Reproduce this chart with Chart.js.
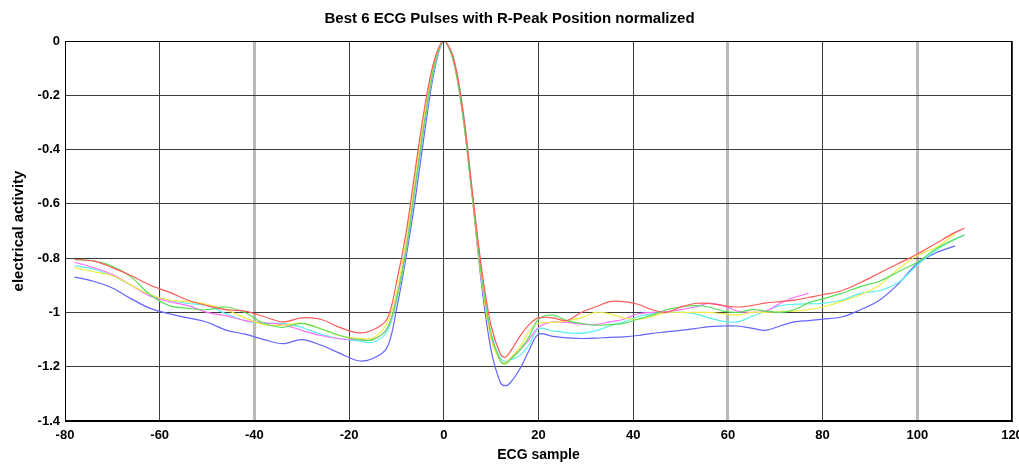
<!DOCTYPE html>
<html>
<head>
<meta charset="utf-8">
<script src="https://cdn.jsdelivr.net/npm/chart.js@4"></script>
<style>
  html, body { margin: 0; padding: 0; background: #fff; }
  canvas { display: block; }
</style>
</head>
<body>
<canvas id="ecgChart" width="1019" height="464"></canvas>
<script>
// sample positions relative to the R peak
const samples = [-78,-74,-70,-66,-62,-58,-54,-50,-46,-42,-38,-34,-30,-26,-22,-18,
  -15,-12,-10,-8,-6,-4,-2,0,2,4,6,8,10,12,13,14,16,18,20,
  23,26,29,32,35,38,41,44,47,50,53,56,59,62,65,68,71,74,77,80,
  84,88,92,96,100,104,108,110];

const pulseRed = [-0.805,-0.81,-0.835,-0.865,-0.9,-0.925,-0.955,-0.975,-0.99,-0.995,-1.015,-1.035,-1.02,-1.025,-1.055,-1.075,
  -1.065,-1.025,-0.89,-0.71,-0.47,-0.24,-0.07,0,-0.06,-0.25,-0.55,-0.84,-1.05,-1.155,-1.165,-1.145,-1.09,-1.045,-1.02,
  -1.02,-1.03,-1.0,-0.98,-0.96,-0.96,-0.97,-0.99,-1.0,-0.98,-0.967,-0.967,-0.975,-0.98,-0.975,-0.965,-0.96,-0.955,-0.945,-0.935,
  -0.92,-0.89,-0.855,-0.82,-0.785,-0.745,-0.705,-0.69];
const pulseGreen = [-0.805,-0.81,-0.83,-0.87,-0.935,-0.975,-0.985,-0.99,-0.98,-1.0,-1.04,-1.055,-1.04,-1.06,-1.085,-1.1,
  -1.1,-1.06,-0.95,-0.77,-0.53,-0.29,-0.09,0,-0.07,-0.27,-0.57,-0.87,-1.08,-1.18,-1.19,-1.175,-1.14,-1.09,-1.025,
  -1.01,-1.03,-1.04,-1.047,-1.045,-1.04,-1.025,-1.01,-0.99,-0.98,-0.975,-0.98,-0.995,-1.0,-0.99,-0.995,-1.0,-0.99,-0.965,-0.95,
  -0.93,-0.905,-0.885,-0.85,-0.815,-0.765,-0.73,-0.715];
const pulseYellow = [-0.835,-0.85,-0.865,-0.9,-0.935,-0.955,-0.96,-0.97,-0.99,-1.02,-1.045,-1.047,-1.04,-1.06,-1.085,-1.095,
  -1.095,-1.04,-0.93,-0.74,-0.5,-0.26,-0.08,0,-0.07,-0.27,-0.57,-0.88,-1.1,-1.18,-1.185,-1.17,-1.13,-1.07,-1.04,
  -1.037,-1.03,-1.02,-1.0,-1.005,-1.02,-1.025,-1.015,-1.0,-1.0,-1.0,-1.0,-1.005,-1.01,-1.0,-1.0,-0.997,-0.995,-0.99,-0.98,
  -0.96,-0.935,-0.9,-0.84,-0.79,-0.76,-0.71,null];
const pulseMagenta = [-0.815,-0.835,-0.86,-0.9,-0.94,-0.96,-0.975,-1.0,-1.012,-1.03,-1.038,-1.045,-1.066,-1.085,-1.097,-1.1,
  -1.1,-1.06,-0.95,-0.77,-0.53,-0.29,-0.09,0,-0.07,-0.27,-0.57,-0.88,-1.09,-1.18,-1.185,-1.17,-1.14,-1.1,-1.055,
  -1.035,-1.037,-1.043,-1.045,-1.035,-1.025,-1.005,-1.0,-0.997,-0.99,-0.98,-0.967,-0.975,-0.995,-1.0,-0.995,-0.967,-0.945,-0.93,null,
  null,null,null,null,null,null,null,null];
const pulseCyan = [-0.827,-0.84,-0.865,-0.9,-0.935,-0.955,-0.967,-0.975,-1.005,-1.03,-1.04,-1.04,-1.055,-1.08,-1.097,-1.105,
  -1.11,-1.07,-0.96,-0.78,-0.54,-0.3,-0.1,0,-0.06,-0.25,-0.55,-0.86,-1.08,-1.17,-1.18,-1.175,-1.16,-1.12,-1.06,
  -1.068,-1.075,-1.077,-1.068,-1.05,-1.035,-1.015,-1.005,-1.0,-1.0,-1.005,-1.02,-1.033,-1.035,-1.015,-0.995,-0.975,-0.97,-0.968,-0.967,
  -0.955,-0.93,-0.92,-0.89,-0.825,-0.77,-0.73,-0.715];
const pulseBlue = [-0.87,-0.885,-0.91,-0.95,-0.985,-1.005,-1.02,-1.036,-1.065,-1.08,-1.1,-1.115,-1.1,-1.12,-1.15,-1.178,
  -1.17,-1.13,-0.99,-0.8,-0.58,-0.33,-0.11,0,-0.07,-0.27,-0.57,-0.9,-1.14,-1.26,-1.27,-1.26,-1.21,-1.14,-1.08,
  -1.088,-1.094,-1.096,-1.095,-1.092,-1.09,-1.085,-1.077,-1.072,-1.066,-1.06,-1.052,-1.05,-1.05,-1.058,-1.066,-1.05,-1.035,-1.03,-1.025,
  -1.017,-0.99,-0.955,-0.895,-0.82,-0.78,-0.755,null];

const xTicks = [-80,-60,-40,-20,0,20,40,60,80,100,120];
const yTicks = [0,-0.2,-0.4,-0.6,-0.8,-1,-1.2,-1.4];

const series = [
  { name: "pulse 1", values: pulseRed, color: "rgb(255,90,90)" },
  { name: "pulse 2", values: pulseGreen, color: "rgb(90,225,90)" },
  { name: "pulse 3", values: pulseYellow, color: "rgb(240,235,70)" },
  { name: "pulse 4", values: pulseMagenta, color: "rgb(255,110,255)" },
  { name: "pulse 5", values: pulseCyan, color: "rgb(90,240,240)" },
  { name: "pulse 6", values: pulseBlue, color: "rgb(100,100,255)" }
];

// light (washed-out) vertical grid lines as in the scan
const paleLines = [-40, 60, 100];

const boxPlugin = {
  id: "box",
  afterDraw(chart) {
    const a = chart.chartArea;
    const c = chart.ctx;
    c.save();
    c.strokeStyle = "#000";
    c.lineWidth = 1;
    c.strokeRect(a.left + 0.5, a.top + 0.5, a.right - a.left - 1, a.bottom - a.top - 1);
    c.restore();
  }
};

const ctx = document.getElementById("ecgChart");
const chart = new Chart(ctx, {
  type: "line",
  data: {
    datasets: series.map(s => ({
      label: s.name,
      data: samples.map((x, i) => ({ x: x, y: s.values[i] })),
      borderColor: s.color,
      backgroundColor: s.color,
      borderWidth: 1.2,
      pointRadius: 0,
      fill: false,
      spanGaps: false,
      tension: 0.35
    }))
  },
  options: {
    responsive: false,
    animation: false,
    devicePixelRatio: 1,
    layout: { padding: { left: 0, right: 0, top: 0, bottom: 0 } },
    plugins: {
      legend: { display: false },
      tooltip: { enabled: false },
      title: {
        display: true,
        text: "Best 6 ECG Pulses with R-Peak Position normalized",
        color: "#000",
        font: { family: "Liberation Sans", size: 15, weight: "bold" },
        padding: { top: 10, bottom: 13 }
      }
    },
    scales: {
      x: {
        type: "linear",
        min: -80,
        max: 120,
        afterBuildTicks: s => { s.ticks = xTicks.map(v => ({ value: v })); },
        afterFit: s => { s.height = 43; s.paddingRight = 7; },
        border: { color: "#000", width: 1 },
        grid: {
          drawTicks: false,
          color: c => (c.tick && paleLines.includes(c.tick.value)) ? "rgb(185,185,185)" : "rgb(60,60,60)",
          lineWidth: c => (c.tick && paleLines.includes(c.tick.value)) ? 3 : 1
        },
        ticks: {
          color: "#000",
          padding: 7,
          maxRotation: 0,
          font: { family: "Liberation Sans", size: 13, weight: "bold" }
        },
        title: {
          display: true,
          text: "ECG sample",
          color: "#000",
          font: { family: "Liberation Sans", size: 14, weight: "bold" },
          padding: { top: 0, bottom: 0 }
        }
      },
      y: {
        type: "linear",
        min: -1.4,
        max: 0,
        afterBuildTicks: s => { s.ticks = yTicks.map(v => ({ value: v })); },
        afterFit: s => { s.width = 65; },
        border: { color: "#000", width: 1 },
        grid: { drawTicks: false, color: "rgb(60,60,60)", lineWidth: 1 },
        ticks: {
          color: "#000",
          padding: 5,
          font: { family: "Liberation Sans", size: 13, weight: "bold" },
          callback: v => String(Number(v.toFixed(1)))
        },
        title: {
          display: true,
          text: "electrical activity",
          color: "#000",
          font: { family: "Liberation Sans", size: 15, weight: "bold" },
          padding: { top: 10, bottom: 0 }
        }
      }
    }
  },
  plugins: [boxPlugin]
});
</script>
</body>
</html>
